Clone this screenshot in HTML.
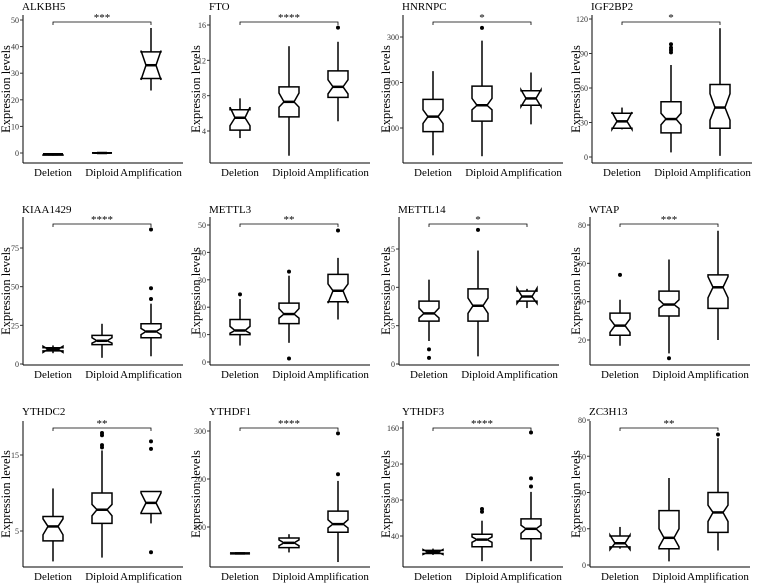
<!DOCTYPE html>
<html><head><meta charset="utf-8"><style>
html,body{margin:0;padding:0;background:#fff}
svg{display:block;font-family:"Liberation Serif",serif}
</style></head><body>
<svg id="fig" width="760" height="584" viewBox="0 0 760 584" xmlns="http://www.w3.org/2000/svg"></svg>
<script>
const categories = ["Deletion","Diploid","Amplification"];
const genes = ["ALKBH5","FTO","HNRNPC","IGF2BP2","KIAA1429","METTL3","METTL14","WTAP","YTHDC2","YTHDF1","YTHDF3","ZC3H13"];
const sigLabels = ["***","****","*","*","****","**","*","***","**","****","****","**"];
const tickValues = [[0,10,20,30,40,50],[4,8,12,16],[100,200,300],[0,30,60,90,120],[0,25,50,75],[0,10,20,30,40,50],[0,5,10,15],[20,40,60,80],[5,15],[100,200,300],[40,80,120,160],[0,20,40,60,80]];
const scaleRefs = [[0,50],[4,16],[100,300],[0,120],[0,75],[0,50],[0,15],[20,80],[5,15],[100,300],[40,160],[0,80]];
const boxStats = [
 [[-1,-0.8,-0.5,-0.3,-0.1,-0.7,-0.3],[-0.2,-0.1,0,0.1,0.2,-0.1,0.1],[23.5,28,33,38,47,27.5,38.5]],
 [[3.2,4.1,5.5,6.4,7.7,4.6,6.7],[1.2,5.6,7.3,9.0,13.6,6.7,8.3],[5.1,7.8,9.0,10.8,14.1,8.2,9.8]],
 [[40,92,125,163,225,110,140],[38,115,150,192,292,140,165],[108,150,165,182,222,147,184]],
 [[24,25,31,38,43,24,39],[4,21,33,48,80,28,38],[1,25,43,63,112,32,55]],
 [[7,8.5,9.5,10.5,12,7.5,11.5],[4,12.5,15,18.5,26,13.5,17],[5,17,21,26,39,19,23]],
 [[6,10,11.5,15.5,23,10.5,13],[7,14,17.5,21.5,31.5,16,19.5],[15.5,22,26,32,38,21.5,28.5]],
 [[3,5.6,6.6,8.2,11,6.0,7.3],[1,5.6,7.6,9.8,14.8,6.6,8.6],[7.3,8.2,8.8,9.5,9.8,7.9,9.9]],
 [[17,22.5,27.5,34,41,24,31],[13,32.5,38.5,45.5,62,36.5,41],[20,36.5,47.5,54,77,42,53]],
 [[1,3.7,5.6,6.9,10.6,4.5,6.6],[1.5,6.0,7.8,10.0,15.6,7.0,8.5],[6.0,7.3,8.7,10.2,10.2,7.4,10.0]],
 [[43,44,45,46,47,44,46],[47,57,67,77,85,61,73],[27,89,106,133,196,98,115]],
 [[19,20.5,22,24,26,19.5,25],[12,28,36,42,57,33,39],[12,37,48,59,89,43,52]],
 [[9,10,12,16,21,8.5,16.5],[2,9,15,30,48,10,20],[8,18,29,40,70,24,33]]
];
const outliers = [
 [[],[],[]],
 [[],[],[15.7]],
 [[],[320],[]],
 [[],[91,93,95,98],[]],
 [[],[],[42,49,87]],
 [[24.7],[33,1.3],[48]],
 [[1.9,0.8],[17.5],[]],
 [[54],[10.5],[]],
 [[],[16.0,16.3,17.6,17.9],[16.8,15.8,2.2]],
 [[],[],[210,295]],
 [[],[67,70],[95,104,155]],
 [[],[],[72]]
];
const colOff=[0,190,380,570];
const axisXs=[23,210,403,592, 23,210,399,590, 23,210,403,590];
const rowTop=[15,217,421], rowBot=[163,365,567];
const refPix=[[153,20],[131,25],[128,37],[157,19],[364,248],[362,225],[364,249],[340,225],[531,455],[527,431],[536,428],[565,420]];
const titleY=[10,213,415];
const svg=document.getElementById('fig');
const NS="http://www.w3.org/2000/svg";
function mk(tag,attrs,parent){const e=document.createElementNS(NS,tag);for(const k in attrs)e.setAttribute(k,attrs[k]);(parent||svg).appendChild(e);return e;}
genes.forEach((g,i)=>{
  const row=Math.floor(i/4), col=i%4;
  const ax=axisXs[i], top=rowTop[row], bot=rowBot[row], ox=colOff[col];
  const [v0,v1]=scaleRefs[i], [p0,p1]=refPix[i];
  const y=v=>p0+(v-v0)*(p1-p0)/(v1-v0);
  const x=c=>ax+30+c*49;
  const grp=mk('g',{});
  
  
  const t=mk('text',{x:ax-1,y:titleY[row],'font-size':11},grp);t.textContent=g;
  
  
  const yl=mk('text',{x:0,y:0,'font-size':12.5,'text-anchor':'middle',transform:`translate(${ox+10},${(top+bot)/2}) rotate(-90)`},grp);yl.textContent='Expression levels';
  
  
  const ya=mk('line',{x1:ax,y1:top,x2:ax,y2:bot,stroke:'#000','stroke-width':1},grp);
  
  
  const xa=mk('line',{x1:ax,y1:bot,x2:ax+160,y2:bot,stroke:'#000','stroke-width':1},grp);
  
  
  tickValues[i].forEach(v=>{
    const ty=y(v);
    mk('line',{x1:ax-3,y1:ty,x2:ax,y2:ty,stroke:'#333','stroke-width':1},grp);
    const tl=mk('text',{x:ax-4,y:ty+3,'font-size':8,'text-anchor':'end',fill:'#333'},grp);tl.textContent=v;
    
    
  });
  categories.forEach((c,k)=>{
    const cl=mk('text',{x:x(k),y:bot+13,'font-size':11,'text-anchor':'middle'},grp);cl.textContent=c;
    
    
    const [lo,q1,md,q3,hi,nl,nh]=boxStats[i][k];
    const cx=x(k), hw=10, nw=5;
    mk('line',{x1:cx,y1:y(lo),x2:cx,y2:y(q1),stroke:'#000','stroke-width':1.5},grp);
    mk('line',{x1:cx,y1:y(q3),x2:cx,y2:y(hi),stroke:'#000','stroke-width':1.5},grp);
    const d=`M${cx-hw},${y(q1)} L${cx-hw},${y(nl)} L${cx-nw},${y(md)} L${cx-hw},${y(nh)} L${cx-hw},${y(q3)} L${cx+hw},${y(q3)} L${cx+hw},${y(nh)} L${cx+nw},${y(md)} L${cx+hw},${y(nl)} L${cx+hw},${y(q1)} Z`;
    const b=mk('path',{d:d,fill:'#fff',stroke:'#000','stroke-width':1.5,'stroke-linejoin':'miter'},grp);
    
    
    mk('line',{x1:cx-nw,y1:y(md),x2:cx+nw,y2:y(md),stroke:'#000','stroke-width':2.5},grp);
    outliers[i][k].forEach(v=>{
      const o=mk('circle',{cx:cx,cy:y(v),r:2,fill:'#000'},grp);
      
      
    });
  });
  const by=top+7;
  const br=mk('path',{d:`M${x(0)},${by+3} L${x(0)},${by} L${x(2)},${by} L${x(2)},${by+3}`,fill:'none',stroke:'#000','stroke-width':0.8},grp);
  
  
  const st=mk('text',{x:x(1),y:by-1,'font-size':11,'text-anchor':'middle'},grp);st.textContent=sigLabels[i];
  
  
});
</script>
</body></html>
